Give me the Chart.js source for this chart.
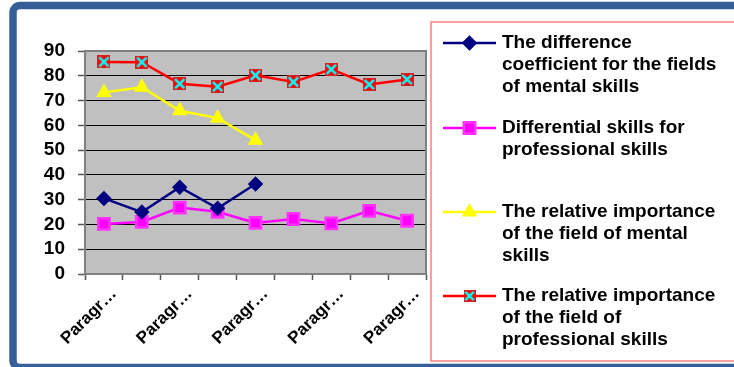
<!DOCTYPE html>
<html>
<head>
<meta charset="utf-8">
<script src="https://cdn.jsdelivr.net/npm/chart.js@4.4.0/dist/chart.umd.min.js"></script>
<style>
  html, body { margin: 0; padding: 0; background: #fff; }
  canvas { display: block; }
</style>
</head>
<body>
<canvas id="chart" width="734" height="367"></canvas>
<script>
/* ── data ── */
const categories = ['Paragraph 1', 'Paragraph 2', 'Paragraph 3', 'Paragraph 4', 'Paragraph 5',
                    'Paragraph 6', 'Paragraph 7', 'Paragraph 8', 'Paragraph 9'];
const mentalDifference = [30.5, 25, 35, 26.5, 36.3];
const professionalDifferential = [20.2, 21, 26.8, 25.1, 20.6, 22.2, 20.4, 25.5, 21.5];
const mentalImportance = [73.3, 75.4, 65.9, 62.9, 54];
const professionalImportance = [85.6, 85.5, 76.8, 75.6, 80.2, 77.5, 82.6, 76.5, 78.5];
const yTicks = [0, 10, 20, 30, 40, 50, 60, 70, 80, 90];

const legendLines = [
  ['The difference', 'coefficient for the fields', 'of mental skills'],
  ['Differential skills for', 'professional skills'],
  ['The relative importance', 'of the field of mental', 'skills'],
  ['The relative importance', 'of the field of', 'professional skills']
];

/* red square with a cyan cross, as Excel draws it */
function makeCrossMarker(size) {
  const c = document.createElement('canvas');
  c.width = size;
  c.height = size;
  const g = c.getContext('2d');
  g.fillStyle = '#ff0000';
  g.fillRect(0, 0, size, size);
  g.strokeStyle = '#d02020';
  g.lineWidth = 1;
  g.strokeRect(0.5, 0.5, size - 1, size - 1);
  g.strokeStyle = '#00ffff';
  g.lineWidth = 2.6;
  g.beginPath();
  g.moveTo(1.8, 1.8); g.lineTo(size - 1.8, size - 1.8);
  g.moveTo(size - 1.8, 1.8); g.lineTo(1.8, size - 1.8);
  g.stroke();
  return c;
}
const crossMarker = makeCrossMarker(13);
const crossMarkerSmall = makeCrossMarker(12);

const FONT = "'Liberation Sans', Arial, sans-serif";

/* frame, plot background and border */
const framePlugin = {
  id: 'frame',
  beforeDraw(chart) {
    const ctx = chart.ctx;
    const a = chart.chartArea;
    ctx.save();
    ctx.fillStyle = '#ffffff';
    ctx.fillRect(0, 0, chart.width, chart.height);
    // blue rounded frame
    ctx.strokeStyle = '#375f97';
    ctx.lineWidth = 7.5;
    ctx.beginPath();
    ctx.roundRect(13, 5.5, 900, 362, 7);
    ctx.stroke();
    // plot background
    ctx.fillStyle = '#c0c0c0';
    ctx.fillRect(a.left, a.top, a.right - a.left, a.bottom - a.top);
    ctx.restore();
  },
  beforeDatasetsDraw(chart) {
    const ctx = chart.ctx;
    const a = chart.chartArea;
    ctx.save();
    ctx.strokeStyle = '#808080';
    ctx.lineWidth = 2;
    ctx.strokeRect(a.left, a.top, a.right - a.left, a.bottom - a.top);
    ctx.restore();
  }
};

/* legend in its own red box, with wrapped lines */
const boxLegendPlugin = {
  id: 'boxLegend',
  afterDraw(chart) {
    const ctx = chart.ctx;
    ctx.save();
    ctx.strokeStyle = '#ff7f7f';
    ctx.lineWidth = 1.5;
    ctx.strokeRect(431, 22, 400, 339);
    const rowY = [43, 128, 212, 296];
    chart.data.datasets.forEach((ds, i) => {
      const y = rowY[i];
      ctx.strokeStyle = ds.borderColor;
      ctx.lineWidth = 2.5;
      ctx.beginPath();
      ctx.moveTo(443, y);
      ctx.lineTo(496, y);
      ctx.stroke();
      ctx.fillStyle = ds.pointBackgroundColor;
      ctx.strokeStyle = ds.pointBorderColor;
      const style = i === 3 ? crossMarkerSmall : ds.pointStyle;
      Chart.helpers.drawPoint(ctx, {
        pointStyle: style, rotation: 0, radius: ds.pointRadius, borderWidth: 1
      }, 469.5, y);
      ctx.fillStyle = '#000';
      ctx.font = 'bold 19px ' + FONT;
      ctx.textBaseline = 'middle';
      ctx.textAlign = 'left';
      legendLines[i].forEach((line, j) => ctx.fillText(line, 502, y + j * 22));
    });
    ctx.restore();
  }
};

new Chart(document.getElementById('chart'), {
  type: 'line',
  data: {
    labels: categories,
    datasets: [
      {
        label: legendLines[0].join(' '),
        data: mentalDifference,
        borderColor: '#000080',
        backgroundColor: '#000080',
        pointBackgroundColor: '#000080',
        pointBorderColor: '#000080',
        pointStyle: 'rectRot',
        pointRadius: 6,
        borderWidth: 2.5
      },
      {
        label: legendLines[1].join(' '),
        data: professionalDifferential,
        borderColor: '#ff00ff',
        backgroundColor: '#ff00ff',
        pointBackgroundColor: '#ff00ff',
        pointBorderColor: '#ff33ff',
        pointStyle: 'rect',
        pointRadius: 8,
        borderWidth: 2.5
      },
      {
        label: legendLines[2].join(' '),
        data: mentalImportance,
        borderColor: '#ffff00',
        backgroundColor: '#ffff00',
        pointBackgroundColor: '#ffff00',
        pointBorderColor: '#ffff00',
        pointStyle: 'triangle',
        pointRadius: 6.5,
        borderWidth: 2.5
      },
      {
        label: legendLines[3].join(' '),
        data: professionalImportance,
        borderColor: '#ff0000',
        backgroundColor: '#ff0000',
        pointBackgroundColor: '#ff0000',
        pointBorderColor: '#ff0000',
        pointStyle: crossMarker,
        pointRadius: 6.5,
        borderWidth: 2.5
      }
    ]
  },
  options: {
    responsive: false,
    animation: false,
    devicePixelRatio: 1,
    layout: { padding: { left: 0, right: 308, top: 51, bottom: 0 } },
    plugins: {
      legend: { display: false },
      tooltip: { enabled: false }
    },
    scales: {
      x: {
        offset: true,
        afterFit: (s) => { s.height = 93; },
        grid: {
          offset: true,
          drawOnChartArea: false,
          tickLength: 6,
          tickColor: '#555555',
          tickWidth: 1.5
        },
        border: { color: '#555555', width: 1.5 },
        ticks: {
          autoSkip: false,
          minRotation: 45,
          maxRotation: 45,
          padding: 4,
          labelOffset: 10,
          color: '#000',
          font: { family: FONT, size: 17, weight: 'bold' },
          callback: function (value, index) {
            if (index % 2 !== 0) return '';
            return this.getLabelForValue(value).slice(0, 6) + '…';
          }
        }
      },
      y: {
        min: 0,
        max: 90,
        afterFit: (s) => { s.width = 85; },
        afterBuildTicks: (s) => { s.ticks = yTicks.map(v => ({ value: v })); },
        grid: {
          color: '#000000',
          lineWidth: 1,
          tickLength: 7,
          tickColor: '#555555',
          tickWidth: 1.5
        },
        border: { color: '#555555', width: 1.5 },
        ticks: {
          autoSkip: false,
          padding: 13,
          color: '#000',
          font: { family: FONT, size: 19, weight: 'bold' }
        }
      }
    }
  },
  plugins: [framePlugin, boxLegendPlugin]
});
</script>
</body>
</html>
